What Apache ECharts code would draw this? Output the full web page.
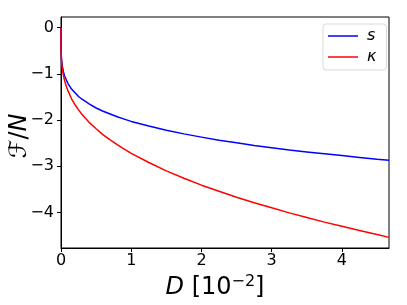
<!DOCTYPE html>
<html><head><meta charset="utf-8">
<script src="https://cdn.jsdelivr.net/npm/echarts@6/dist/echarts.min.js"></script>
<style>html,body{margin:0;padding:0;background:#fff}#c{width:407px;height:305px}</style>
</head><body><div id="c"></div>
<script>
var xValues = [0, 0.0002, 0.001, 0.002, 0.005, 0.01, 0.02, 0.035, 0.05, 0.075, 0.1, 0.15, 0.2, 0.25, 0.3, 0.4, 0.5, 0.6, 0.7, 0.8, 0.9, 1.0, 1.25, 1.5, 1.75, 2.0, 2.25, 2.5, 2.75, 3.0, 3.25, 3.5, 3.75, 4.0, 4.25, 4.5, 4.67];
var sValues = [0, -0.30, -0.43, -0.50, -0.62, -0.72, -0.84, -0.96, -1.04, -1.13, -1.21, -1.33, -1.41, -1.49, -1.55, -1.65, -1.74, -1.81, -1.87, -1.93, -1.98, -2.03, -2.13, -2.22, -2.30, -2.37, -2.44, -2.49, -2.55, -2.60, -2.65, -2.69, -2.73, -2.77, -2.81, -2.85, -2.87];
var kValues = [0, -0.38, -0.49, -0.56, -0.67, -0.78, -0.91, -1.04, -1.14, -1.27, -1.37, -1.54, -1.67, -1.78, -1.88, -2.05, -2.19, -2.32, -2.43, -2.53, -2.63, -2.72, -2.92, -3.10, -3.26, -3.41, -3.54, -3.67, -3.79, -3.90, -4.01, -4.11, -4.21, -4.30, -4.39, -4.48, -4.54];
var seriesNames = ['s', 'κ'];
var xTicks = [0, 1, 2, 3, 4];
var yTicks = [0, -1, -2, -3, -4];

function pairs(ys) { return xValues.map(function (x, i) { return [x, ys[i]]; }); }
var fmt = function (v) { return v < 0 ? '\u2212' + Math.abs(v) : String(v); };
var FONT = 'DejaVu Sans';

var chart = echarts.init(document.getElementById('c'), null, { renderer: 'canvas' });
chart.setOption({
  animation: false,
  grid: { left: 61, right: 18, top: 17, bottom: 57, show: true, borderColor: '#000', borderWidth: 1, backgroundColor: 'transparent' },
  legend: {
    orient: 'vertical', left: 323, top: 24,
    padding: [2, 10, 3, 5], itemGap: 1,
    itemWidth: 30, itemHeight: 1.5, icon: 'rect',
    borderColor: '#d9d9d9', borderWidth: 1, borderRadius: 3,
    textStyle: { fontFamily: FONT, fontSize: 16, fontStyle: 'italic', color: '#000', lineHeight: 20, padding: [0, 0, 0, 4] },
    data: seriesNames
  },
  xAxis: {
    type: 'value', min: 0, max: 4.67, interval: 1,
    axisLine: { show: true, onZero: false, lineStyle: { color: '#000', width: 1 } },
    axisTick: { show: true, length: 4, lineStyle: { color: '#000' }, customValues: xTicks },
    axisLabel: { fontFamily: FONT, fontSize: 16, color: '#000', margin: 5, customValues: xTicks, formatter: fmt },
    splitLine: { show: false }
  },
  yAxis: {
    type: 'value', min: -4.77, max: 0.23,
    axisLine: { show: true, onZero: false, lineStyle: { color: '#000', width: 1 } },
    axisTick: { show: true, length: 4, lineStyle: { color: '#000' }, customValues: yTicks },
    axisLabel: { fontFamily: FONT, fontSize: 16, color: '#000', margin: 7, customValues: yTicks, formatter: fmt },
    splitLine: { show: false }
  },
  series: [
    { name: seriesNames[0], type: 'line', data: pairs(sValues), showSymbol: false, smooth: false, lineStyle: { color: '#0000ff', width: 1.5 }, itemStyle: { color: '#0000ff' } },
    { name: seriesNames[1], type: 'line', data: pairs(kValues), showSymbol: false, smooth: false, lineStyle: { color: '#ff0000', width: 1.5 }, itemStyle: { color: '#ff0000' } }
  ],
  graphic: [
    {
      type: 'text', x: 20, y: 136, rotation: Math.PI / 2,
      style: {
        text: '{f|ℱ}{n|/}{i|N}', align: 'center', verticalAlign: 'middle',
        rich: {
          f: { fontFamily: FONT, fontSize: 24, fill: '#000' },
          n: { fontFamily: FONT, fontSize: 24, fill: '#000' },
          i: { fontFamily: FONT, fontSize: 24, fontStyle: 'italic', fill: '#000' }
        }
      }
    },
    {
      type: 'text', x: 215, y: 288,
      style: {
        text: '{d|D}{n| [10}{s|\u22122}{n|]}', align: 'center', verticalAlign: 'middle',
        rich: {
          d: { fontFamily: FONT, fontSize: 24, fontStyle: 'italic', fill: '#000', lineHeight: 28 },
          n: { fontFamily: FONT, fontSize: 24, fill: '#000', lineHeight: 28 },
          s: { fontFamily: FONT, fontSize: 16, fill: '#000', verticalAlign: 'top', lineHeight: 18 }
        }
      }
    }
  ]
});
</script></body></html>
